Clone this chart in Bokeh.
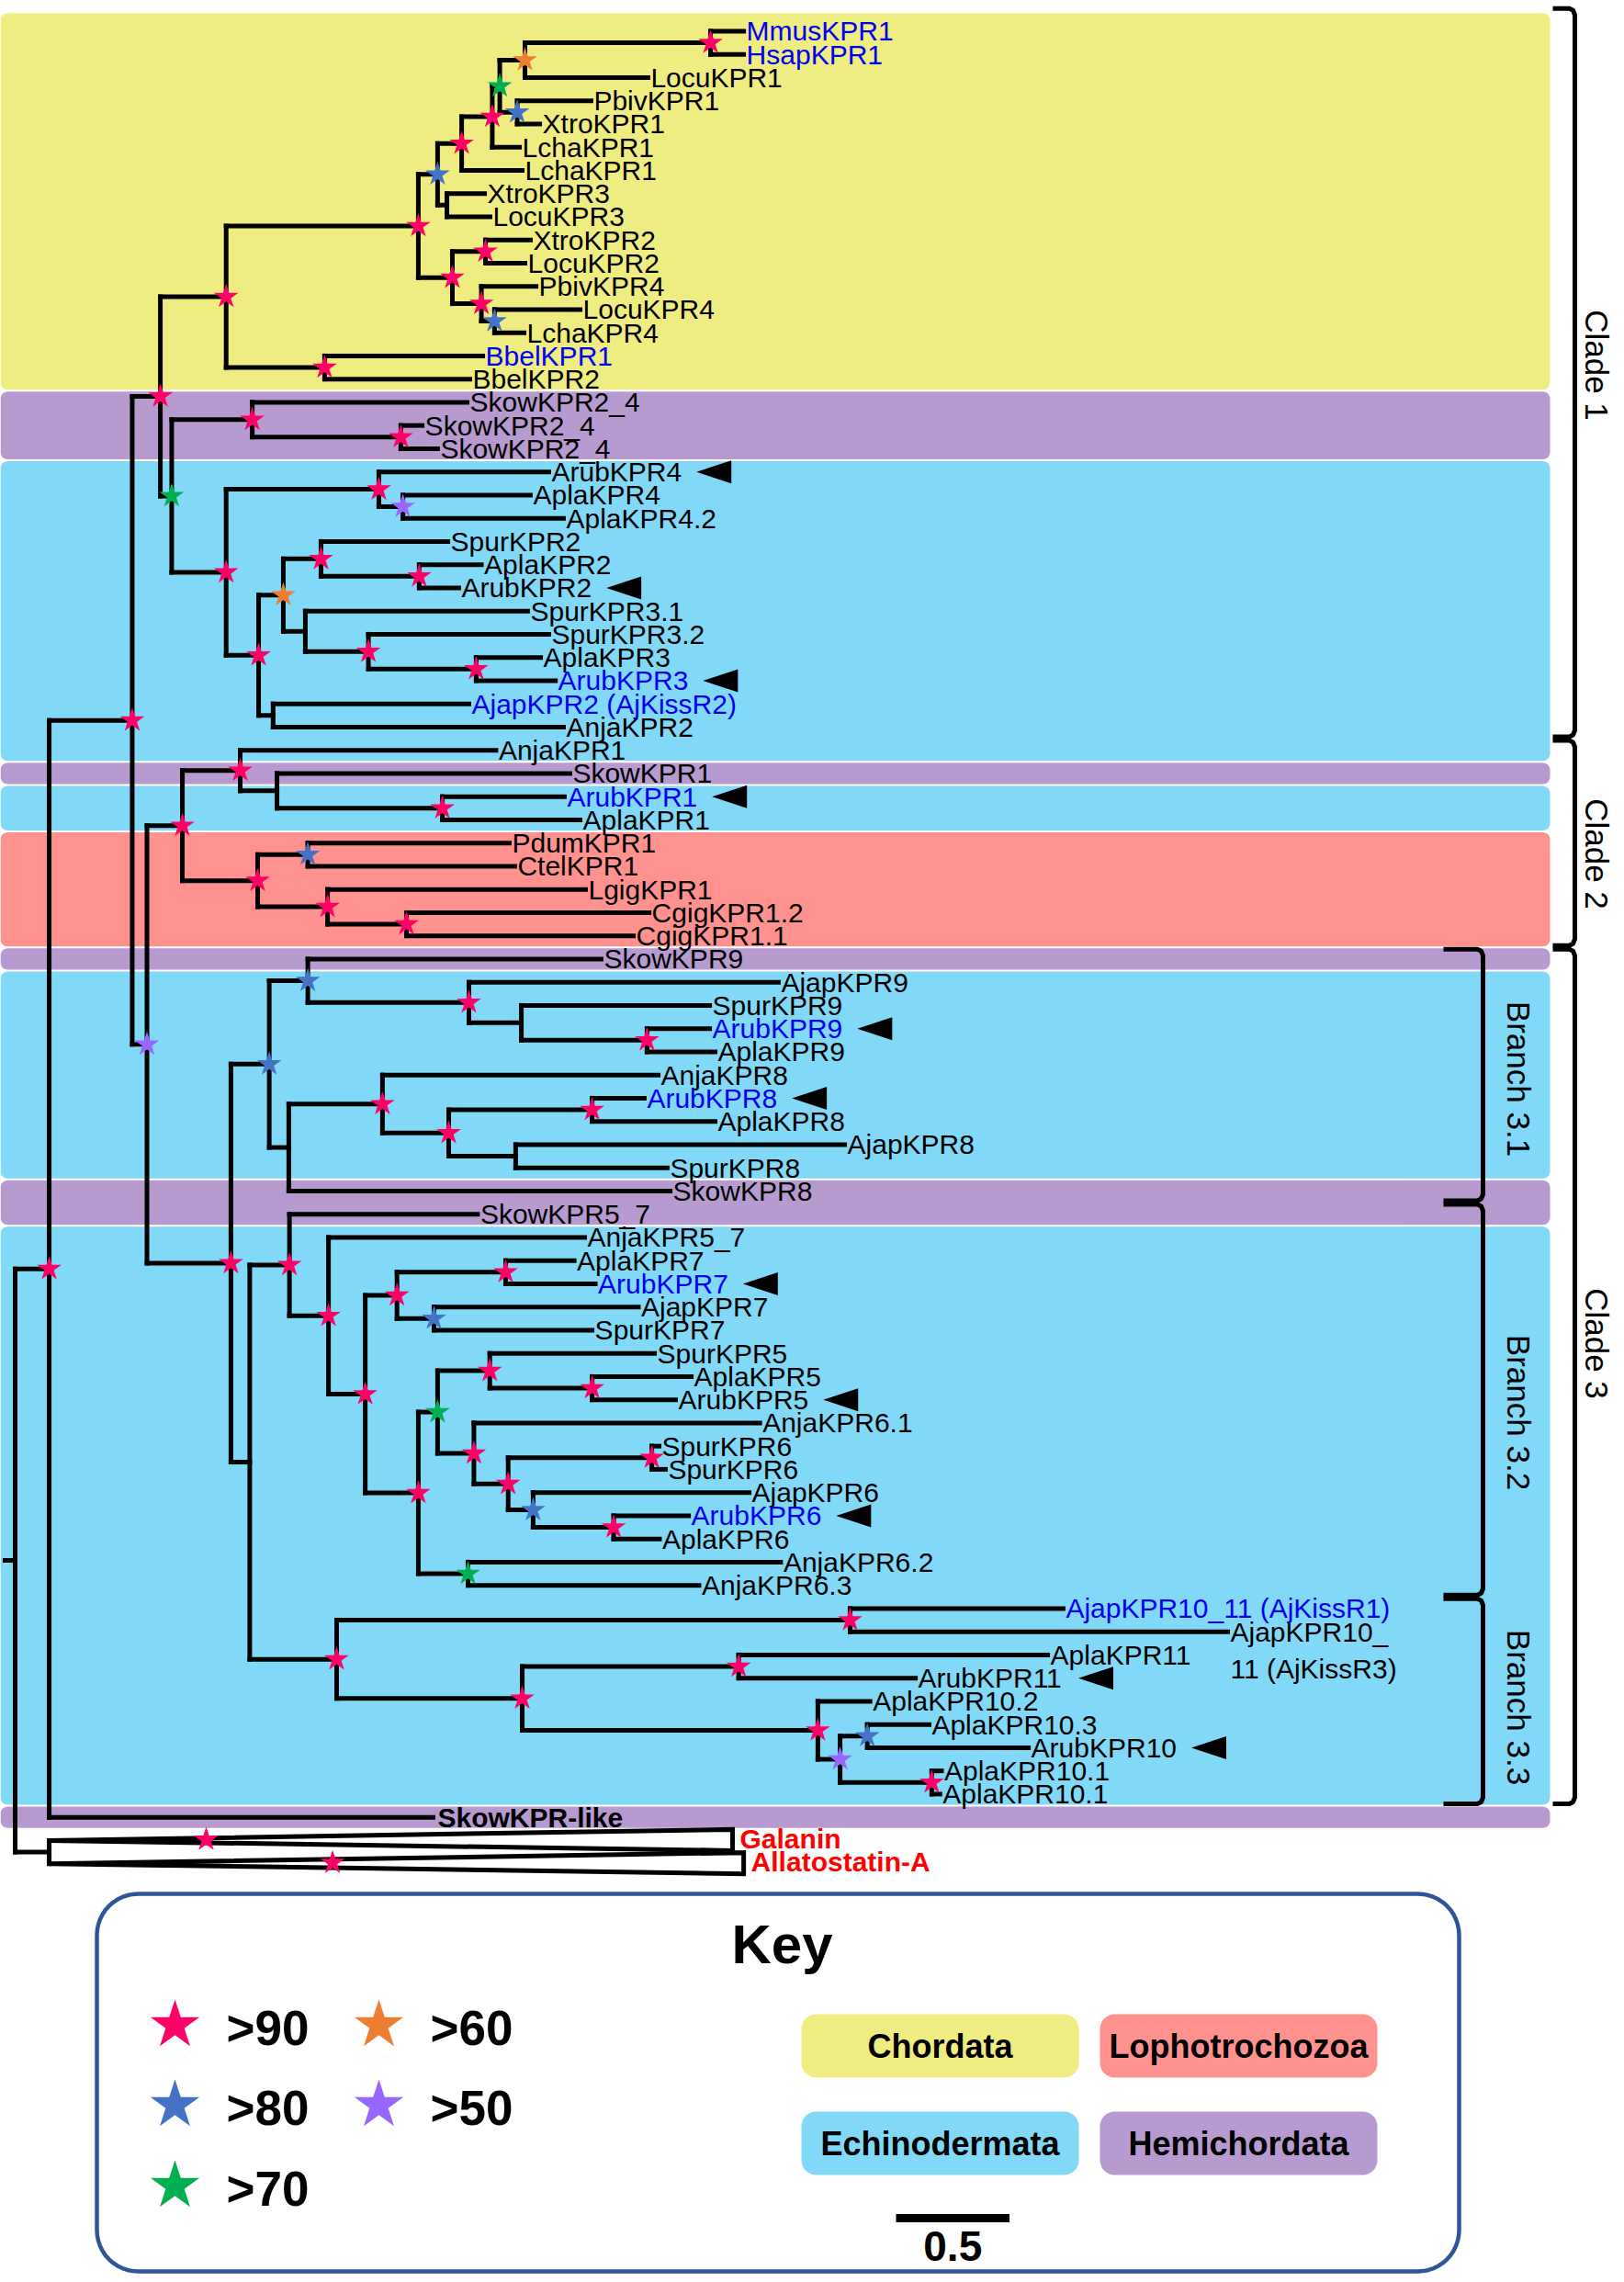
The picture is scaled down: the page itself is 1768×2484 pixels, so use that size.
import math
from bokeh.plotting import figure
from bokeh.models import Range1d
from bokeh.embed import file_html
from bokeh.resources import INLINE
from bokeh.core.properties import value

# ============================ DATA ============================
# leaves, top to bottom
leaf_labels = [
    "MmusKPR1", "HsapKPR1", "LocuKPR1", "PbivKPR1", "XtroKPR1", "LchaKPR1", "LchaKPR1",
    "XtroKPR3", "LocuKPR3", "XtroKPR2", "LocuKPR2", "PbivKPR4", "LocuKPR4", "LchaKPR4",
    "BbelKPR1", "BbelKPR2",
    "SkowKPR2_4", "SkowKPR2_4", "SkowKPR2_4",
    "ArubKPR4", "AplaKPR4", "AplaKPR4.2", "SpurKPR2", "AplaKPR2", "ArubKPR2",
    "SpurKPR3.1", "SpurKPR3.2", "AplaKPR3", "ArubKPR3", "AjapKPR2 (AjKissR2)", "AnjaKPR2",
    "AnjaKPR1", "SkowKPR1", "ArubKPR1", "AplaKPR1",
    "PdumKPR1", "CtelKPR1", "LgigKPR1", "CgigKPR1.2", "CgigKPR1.1",
    "SkowKPR9", "AjapKPR9", "SpurKPR9", "ArubKPR9", "AplaKPR9",
    "AnjaKPR8", "ArubKPR8", "AplaKPR8", "AjapKPR8", "SpurKPR8", "SkowKPR8",
    "SkowKPR5_7", "AnjaKPR5_7", "AplaKPR7", "ArubKPR7", "AjapKPR7", "SpurKPR7",
    "SpurKPR5", "AplaKPR5", "ArubKPR5", "AnjaKPR6.1", "SpurKPR6", "SpurKPR6",
    "AjapKPR6", "ArubKPR6", "AplaKPR6", "AnjaKPR6.2", "AnjaKPR6.3",
    "AjapKPR10_11 (AjKissR1)", "AjapKPR10_\n11 (AjKissR3)", "AplaKPR11", "ArubKPR11",
    "AplaKPR10.2", "AplaKPR10.3", "ArubKPR10", "AplaKPR10.1", "AplaKPR10.1",
    "SkowKPR-like",
]
# distance from root (substitutions per site)
leaf_depth = [
    3.211, 3.211, 2.789, 2.538, 2.312, 2.223, 2.235,
    2.069, 2.093, 2.271, 2.247, 2.296, 2.490, 2.243,
    2.061, 2.004,
    1.992, 1.794, 1.862,
    2.352, 2.271, 2.417, 1.907, 2.055, 1.955,
    2.259, 2.352, 2.316, 2.381, 2.000, 2.417,
    2.119, 2.445, 2.421, 2.490,
    2.178, 2.202, 2.514, 2.794, 2.725,
    2.583, 3.364, 3.061, 3.061, 3.085,
    2.834, 2.773, 3.085, 3.656, 2.874, 2.887,
    2.038, 2.510, 2.464, 2.557, 2.747, 2.543,
    2.818, 2.980, 2.911, 3.282, 2.838, 2.866,
    3.235, 2.968, 2.840, 3.374, 3.014,
    4.619, 5.344, 4.551, 3.968,
    3.768, 4.028, 4.466, 4.083, 4.076,
    1.842,
]
leaf_parent = [
    "C_MH", "C_MH", "C_MHL", "C_PX1", "C_PX1", "C_R1", "C_R2",
    "C_X3L3", "C_X3L3", "C_X2L2", "C_X2L2", "C_P4", "C_LL4", "C_LL4",
    "C_Bbel", "C_Bbel",
    "S_24", "S_bc", "S_bc",
    "E_4", "E_44", "E_44", "E_2", "E_22", "E_22",
    "E_31", "E_32", "E_33", "E_33", "E_A2", "E_A2",
    "C2_N1", "C2_S1", "C2_A1", "C2_A1",
    "C2_PC", "C2_PC", "C2_LC", "C2_Cg", "C2_Cg",
    "B9", "B9_J", "B9_S", "B9_AA", "B9_AA",
    "B8_N", "B8_AA", "B8_AA", "B8_JS", "B8_JS", "B8",
    "B32", "B57N", "B7_AA", "B7_AA", "B7_JS", "B7_JS",
    "B5", "B5_AA", "B5_AA", "B6_N", "B6_S", "B6_S",
    "B6_J", "B6_AA", "B6_AA", "B6_23", "B6_23",
    "B1011", "B1011", "B11", "B11",
    "B10", "B10_31", "B10_31", "B10_1", "B10_1",
    "N53",
]
# C = Chordata, H = Hemichordata, E = Echinodermata, L = Lophotrochozoa
leaf_taxon = list(
    "CCCCCCCCCCCCCCCC" "HHH" "EEEEEEEEEEEEE" "H" "EE" "LLLLL" "H"
    "EEEEEEEEE" "HH" "EEEEEEEEEEEEEEEEEEEEEEEEE" "H"
)
blue_labels = ["MmusKPR1", "HsapKPR1", "BbelKPR1", "ArubKPR3", "AjapKPR2 (AjKissR2)",
               "ArubKPR1", "ArubKPR9", "ArubKPR8", "ArubKPR7", "ArubKPR6",
               "AjapKPR10_11 (AjKissR1)"]
arrow_labels = ["ArubKPR4", "ArubKPR2", "ArubKPR3", "ArubKPR1", "ArubKPR9", "ArubKPR8",
                "ArubKPR7", "ArubKPR5", "ArubKPR6", "ArubKPR11", "ArubKPR10"]
bold_labels = ["SkowKPR-like"]

# internal nodes
node_ids = [
    "ROOT", "N53", "N_og", "P1", "R1",
    "C_chord", "C_V", "C_B1", "C_R2", "C_R1",
    "C_G1", "C_MHL", "C_MH", "C_PX1", "C_X3L3",
    "C_R3", "C_X2L2", "C_P4", "C_LL4", "C_Bbel",
    "G", "S_24", "S_bc", "E_echo", "E_4",
    "E_44", "E_R", "E_23", "E_2", "E_22",
    "E_31", "E_32", "E_33", "E_A2", "P2",
    "C2", "C2_N1", "C2_S1", "C2_A1", "C2_L",
    "C2_PC", "C2_LC", "C2_Cg", "C3", "B31",
    "B9", "B9_J", "B9_S", "B9_AA", "B8",
    "B8_N", "B8_X", "B8_AA", "B8_JS", "B3233",
    "B32", "B57N", "B567", "B7", "B7_AA",
    "B7_JS", "B56N", "B56", "B5", "B5_AA",
    "B6_N", "B6_X", "B6_S", "B6_J", "B6_AA",
    "B6_23", "B33", "B1011", "B1110", "B11",
    "B10", "B10_P", "B10_31", "B10_1",
]
node_parent = [
    None, "ROOT", "ROOT", "N53", "P1",
    "R1", "C_chord", "C_V", "C_B1", "C_R2",
    "C_R1", "C_G1", "C_MHL", "C_G1", "C_B1",
    "C_V", "C_R3", "C_R3", "C_P4", "C_chord",
    "R1", "G", "S_24", "G", "E_echo",
    "E_4", "E_echo", "E_R", "E_23", "E_2",
    "E_23", "E_31", "E_32", "E_R", "P1",
    "P2", "C2", "C2_N1", "C2_S1", "C2",
    "C2_L", "C2_L", "C2_LC", "P2", "C3",
    "B31", "B9", "B9_J", "B9_S", "B31",
    "B8", "B8_N", "B8_X", "B8_X", "C3",
    "B3233", "B32", "B57N", "B567", "B7",
    "B7", "B567", "B56N", "B56", "B5",
    "B56", "B6_N", "B6_X", "B6_X", "B6_J",
    "B56N", "B3233", "B33", "B33", "B1110",
    "B1110", "B10", "B10_P", "B10_P",
]
node_depth = [
    0.000, 0.150, 0.150, 0.516, 0.640,
    0.930, 1.777, 1.862, 1.968, 2.103,
    2.136, 2.247, 3.065, 2.213, 1.903,
    1.927, 2.073, 2.055, 2.113, 1.364,
    0.690, 1.045, 1.700, 0.930, 1.603,
    1.709, 1.073, 1.182, 1.348, 1.781,
    1.279, 1.557, 2.032, 1.137, 0.581,
    0.737, 0.992, 1.154, 1.883, 1.069,
    1.290, 1.377, 1.725, 0.951, 1.120,
    1.290, 2.000, 2.231, 2.785, 1.206,
    1.619, 1.911, 2.543, 2.206, 1.034,
    1.209, 1.381, 1.543, 1.683, 2.162,
    1.846, 1.777, 1.862, 2.092, 2.543,
    2.022, 2.173, 2.806, 2.283, 2.638,
    1.996, 1.417, 3.680, 2.235, 3.189,
    3.538, 3.636, 3.756, 4.040,
]
# bootstrap support class of each node ("" = below 50)
node_support = [
    "", "90", "", "90", "90",
    "90", "90", "80", "90", "90",
    "70", "60", "90", "80", "",
    "90", "90", "90", "80", "90",
    "70", "90", "90", "90", "90",
    "50", "90", "60", "90", "90",
    "", "90", "90", "", "50",
    "90", "90", "", "90", "90",
    "80", "90", "90", "90", "80",
    "80", "90", "", "90", "",
    "90", "90", "90", "", "",
    "90", "90", "90", "90", "90",
    "80", "90", "70", "90", "90",
    "90", "90", "90", "80", "90",
    "70", "90", "90", "90", "90",
    "90", "50", "80", "90",
]

# collapsed outgroups
outgroup_labels = ["Galanin", "Allatostatin-A"]
outgroup_parent = ["N_og", "N_og"]
outgroup_root_depth = [0.842, 1.399]
outgroup_tip_depth = [3.162, 3.211]
outgroup_support = ["90", "90"]

taxon_names = {"C": "Chordata", "L": "Lophotrochozoa", "E": "Echinodermata", "H": "Hemichordata"}
support_levels = ["90", "80", "70", "60", "50"]

bracket_names = ["Clade 1", "Clade 2", "Clade 3", "Branch 3.1", "Branch 3.2", "Branch 3.3"]
bracket_first = [0, 31, 40, 40, 51, 68]
bracket_last = [30, 39, 76, 50, 67, 76]
bracket_level = ["clade", "clade", "clade", "branch", "branch", "branch"]

scale_bar_length = 0.5

# ============================ LAYOUT / STYLE ============================
W, H = 1760, 2476
X0, UNIT = 16.0, 247.0        # root x (px) and px per substitution unit
Y0, DY = 33.4, 25.25          # first leaf row y and row spacing (px)
FONT = "Liberation Sans"
FS = 30
LINE_W = 5
ARROW_GAP = 16

TAXON_COLOR = {"C": "#EFEC82", "L": "#FF918F", "E": "#81D8F7", "H": "#B79ACF"}
SUPPORT_COLOR = {"90": "#FF0066", "80": "#4472C4", "70": "#00B050", "60": "#ED7D31", "50": "#9966FF"}
BLUE = "#0000F0"

BAND_X0, BAND_X1 = 0, 1687
BRACKET_X = {"clade": 1714, "branch": 1614}
BRACKET_HOOK = {"clade": 24, "branch": 43}
BRACKET_TEXT_X = {"clade": 1738, "branch": 1653}
BRACKET_TEXT_Y = {"Clade 1": 397, "Clade 2": 929, "Clade 3": 1462,
                  "Branch 3.1": 1174, "Branch 3.2": 1537, "Branch 3.3": 1858}

# Arial / Liberation Sans advance widths (em)
AW = {
    'A': .667, 'B': .667, 'C': .722, 'D': .722, 'E': .667, 'G': .778, 'H': .722, 'J': .5,
    'K': .667, 'L': .556, 'M': .833, 'P': .667, 'R': .722, 'S': .667, 'X': .667,
    'a': .556, 'b': .556, 'c': .5, 'd': .556, 'e': .556, 'g': .556, 'h': .556, 'i': .222,
    'j': .222, 'k': .5, 'l': .222, 'm': .833, 'n': .556, 'o': .556, 'p': .556, 'r': .333,
    's': .5, 't': .278, 'u': .556, 'v': .5, 'w': .722, 'z': .5, '.': .278, '_': .556,
    ' ': .278, '(': .333, ')': .333, '-': .333,
}


def text_w(s, size):
    return sum(AW.get(ch, .556) for ch in s) * size


def rrect(x0, y0, x1, y1, r, n=8):
    xs, ys = [], []
    corners = [(x1 - r, y0 + r, -90, 0), (x1 - r, y1 - r, 0, 90),
               (x0 + r, y1 - r, 90, 180), (x0 + r, y0 + r, 180, 270)]
    for cx, cy, a0, a1 in corners:
        for k in range(n + 1):
            a = math.radians(a0 + (a1 - a0) * k / n)
            xs.append(cx + r * math.cos(a))
            ys.append(cy + r * math.sin(a))
    return xs, ys


# ============================ TREE GEOMETRY ============================
n_leaf = len(leaf_labels)
assert len(leaf_depth) == n_leaf == len(leaf_parent) == len(leaf_taxon)
assert len(node_ids) == len(node_parent) == len(node_depth) == len(node_support)

xpos, ypos = {}, {}
kids = {nid: [] for nid in node_ids}
for i in range(n_leaf):
    key = ("leaf", i)
    xpos[key] = X0 + leaf_depth[i] * UNIT
    ypos[key] = Y0 + i * DY
    kids[leaf_parent[i]].append(key)
for j in range(len(outgroup_labels)):
    key = ("og", j)
    ypos[key] = Y0 + (n_leaf + j) * DY
    kids[outgroup_parent[j]].append(key)
for nid, pa, d in zip(node_ids, node_parent, node_depth):
    xpos[nid] = X0 + d * UNIT
    if pa is not None:
        kids[pa].append(nid)


def gety(n):
    if n in ypos:
        return ypos[n]
    ys = [gety(c) for c in kids[n]]
    ypos[n] = (min(ys) + max(ys)) / 2
    return ypos[n]


for nid in node_ids:
    gety(nid)

# ============================ FIGURE ============================
p = figure(width=W, height=H, x_range=Range1d(0, W), y_range=Range1d(H, 0),
           output_backend="svg", toolbar_location=None, min_border=0,
           x_axis_location=None, y_axis_location=None)
p.grid.visible = False
p.outline_line_color = None
p.background_fill_color = "white"
p.border_fill_color = "white"

# ---- taxon bands
bxs, bys, bcs = [], [], []
start = 0
for i in range(1, n_leaf + 1):
    if i == n_leaf or leaf_taxon[i] != leaf_taxon[start]:
        top = ypos[("leaf", start)] - DY / 2 + 1
        bot = ypos[("leaf", i - 1)] + DY / 2 - 1
        if start == 0:
            top -= 8
        xs, ys = rrect(BAND_X0, top, BAND_X1, bot, 8)
        bxs.append(xs); bys.append(ys); bcs.append(TAXON_COLOR[leaf_taxon[start]])
        start = i
p.patches(bxs, bys, fill_color=bcs, line_color=None)

# ---- collapsed outgroup triangles
txs, tys = [], []
for j in range(len(outgroup_labels)):
    yj = ypos[("og", j)]
    ax = xpos[outgroup_parent[j]]
    tx = X0 + outgroup_tip_depth[j] * UNIT
    txs.append([ax, tx, tx]); tys.append([yj, yj - 12, yj + 11])
p.patches(txs, tys, fill_color="white", line_color="black", line_width=LINE_W, line_join="miter")

# ---- branches
sx0, sy0, sx1, sy1 = [], [], [], []
for nid in node_ids:
    xn = xpos[nid]
    cys = [ypos[c] for c in kids[nid]]
    sx0.append(xn); sy0.append(min(cys)); sx1.append(xn); sy1.append(max(cys))
    for c in kids[nid]:
        if c[0] == "og":
            continue
        sx0.append(xn); sy0.append(ypos[c]); sx1.append(xpos[c]); sy1.append(ypos[c])
sx0.append(X0 - 11); sy0.append(ypos["ROOT"]); sx1.append(X0); sy1.append(ypos["ROOT"])
p.segment(sx0, sy0, sx1, sy1, line_color="black", line_width=LINE_W, line_cap="square")

# ---- support stars
stx, sty, stc = [], [], []
for nid, s in zip(node_ids, node_support):
    if s:
        stx.append(xpos[nid]); sty.append(ypos[nid]); stc.append(SUPPORT_COLOR[s])
for j, s in enumerate(outgroup_support):
    if s:
        stx.append(X0 + outgroup_root_depth[j] * UNIT); sty.append(ypos[("og", j)] - 1)
        stc.append(SUPPORT_COLOR[s])
p.scatter(stx, sty, marker="star", size=28, fill_color=stc, line_color=None)

# ---- leaf labels
lx, ly, lt, lc = [], [], [], []
bx_, by_, bt_ = [], [], []
axs, ays = [], []
for i, lab in enumerate(leaf_labels):
    x = xpos[("leaf", i)] + 3
    y = ypos[("leaf", i)]
    if lab in bold_labels:
        bx_.append(x + 2); by_.append(y); bt_.append(lab)
        continue
    for k, line in enumerate(lab.split("\n")):
        lx.append(x); ly.append(y + k * 40); lt.append(line)
        lc.append(BLUE if lab in blue_labels else "black")
    if lab in arrow_labels:
        a0 = x + text_w(lab, FS) + ARROW_GAP
        axs.append([a0, a0 + 38, a0 + 38]); ays.append([y, y - 12.5, y + 12.5])
p.text(lx, ly, text=lt, text_color=lc, text_font=value(FONT), text_font_size=f"{FS}px",
       text_baseline="alphabetic", text_align="left")
p.text(bx_, by_, text=bt_, text_color="black", text_font=value(FONT), text_font_size=f"{FS}px",
       text_font_style="bold", text_baseline="alphabetic", text_align="left")
p.patches(axs, ays, fill_color="black", line_color=None)

# outgroup labels
ox, oy = [], []
for j in range(len(outgroup_labels)):
    ox.append(X0 + outgroup_tip_depth[j] * UNIT + 8)
    oy.append(ypos[("og", j)] - 2)
p.text(ox, oy, text=outgroup_labels, text_color="#FF0000", text_font=value(FONT),
       text_font_size="30px", text_font_style="bold", text_baseline="alphabetic", text_align="left")

# ---- brackets
brx, bry = [], []
btx, bty, btt = [], [], []
for name, f, l, lev in zip(bracket_names, bracket_first, bracket_last, bracket_level):
    x = BRACKET_X[lev]
    hk = BRACKET_HOOK[lev]
    top = ypos[("leaf", f)] - DY / 2 + 2
    bot = ypos[("leaf", l)] + DY / 2 - 2
    if f == 0:
        top -= 14
    brx.append([x - hk, x - 6, x - 2, x, x, x - 2, x - 6, x - hk])
    bry.append([top, top, top + 2, top + 7, bot - 7, bot - 2, bot, bot])
    btx.append(BRACKET_TEXT_X[lev]); bty.append(BRACKET_TEXT_Y[name]); btt.append(name)
p.multi_line(brx, bry, line_color="black", line_width=5, line_join="round")
p.text(btx, bty, text=btt, angle=-math.pi / 2, text_color="black", text_font=value(FONT),
       text_font_size="35px", text_baseline="middle", text_align="center")

# ============================ KEY ============================
kx, ky = rrect(105, 2061, 1588, 2472, 45, n=12)
p.patch(kx, ky, fill_color=None, fill_alpha=0, line_color="#2F5597", line_width=4.5)
p.text([851], [2116], text=["Key"], text_font=value(FONT), text_font_size="60px",
       text_font_style="bold", text_align="center", text_baseline="alphabetic")

LEG_STAR_POS = {"90": (190, 2204), "80": (190, 2291), "70": (190, 2379),
                "60": (412, 2204), "50": (412, 2291)}
lsx = [LEG_STAR_POS[s][0] for s in support_levels]
lsy = [LEG_STAR_POS[s][1] for s in support_levels]
p.scatter(lsx, lsy, marker="star", size=56, fill_color=[SUPPORT_COLOR[s] for s in support_levels],
          line_color=None)
p.text([x + 56 for x in lsx], [y + 3 for y in lsy], text=[">" + s for s in support_levels],
       text_font=value(FONT), text_font_size="53px", text_font_style="bold",
       text_align="left", text_baseline="alphabetic")

LEG_BOX_POS = {"C": (872, 2192), "L": (1197, 2192), "E": (872, 2298), "H": (1197, 2298)}
LB_W, LB_H = 302, 69
cbx, cby, cbc, ctx, cty, ctt = [], [], [], [], [], []
for code in ["C", "L", "E", "H"]:
    x0, y0 = LEG_BOX_POS[code]
    xs, ys = rrect(x0, y0, x0 + LB_W, y0 + LB_H, 16)
    cbx.append(xs); cby.append(ys); cbc.append(TAXON_COLOR[code])
    ctx.append(x0 + LB_W / 2); cty.append(y0 + LB_H / 2); ctt.append(taxon_names[code])
p.patches(cbx, cby, fill_color=cbc, line_color=None)
p.text(ctx, cty, text=ctt, text_font=value(FONT), text_font_size="36px", text_font_style="bold",
       text_align="center", text_baseline="alphabetic")

# scale bar
SB_X, SB_Y = 975, 2414
p.segment([SB_X], [SB_Y], [SB_X + scale_bar_length * UNIT], [SB_Y], line_color="black",
          line_width=9, line_cap="butt")
p.text([SB_X + scale_bar_length * UNIT / 2], [2444], text=[str(scale_bar_length)],
       text_font=value(FONT), text_font_size="46px", text_font_style="bold",
       text_align="center", text_baseline="alphabetic")

open("out.html", "w").write(file_html(p, INLINE))
